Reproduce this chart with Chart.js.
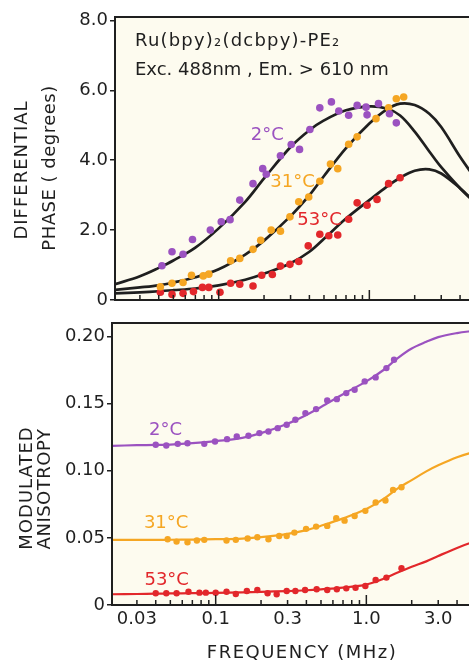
<!DOCTYPE html>
<html lang="en">
<head>
<meta charset="UTF-8">
<title>Differential phase and modulated anisotropy</title>
<script src="https://cdn.jsdelivr.net/npm/chart.js@4.4.0/dist/chart.umd.min.js"></script>
<style>
  html, body { margin: 0; padding: 0; background: #fff; overflow: hidden; width: 469px; height: 660px; }
  #phase-box { position: absolute; left: 0; top: 0; }
  #aniso-box { position: absolute; left: 0; top: 310px; }
</style>
</head>
<body>
<div id="phase-box"><canvas id="phaseChart" width="540" height="330"></canvas></div>
<div id="aniso-box"><canvas id="anisoChart" width="540" height="350"></canvas></div>
<script>
// ---- differential phase (degrees), measured points ----
const phaseFreq2 = [0.042, 0.049, 0.058, 0.067, 0.088, 0.104, 0.119, 0.138, 0.169, 0.196, 0.207, 0.257, 0.303, 0.344, 0.403, 0.469, 0.56, 0.627, 0.729, 0.83, 0.951, 0.966, 1.15, 1.36, 1.51]
const phase2 = [0.98, 1.38, 1.31, 1.73, 2.0, 2.24, 2.30, 2.86, 3.33, 3.76, 3.6, 4.13, 4.45, 4.31, 4.88, 5.50, 5.67, 5.41, 5.29, 5.57, 5.52, 5.30, 5.62, 5.33, 5.07]
const phaseFreq31 = [0.041, 0.049, 0.058, 0.066, 0.079, 0.086, 0.12, 0.138, 0.169, 0.19, 0.223, 0.257, 0.297, 0.34, 0.396, 0.469, 0.552, 0.617, 0.729, 0.83, 1.107, 1.342, 1.51, 1.69]
const phase31 = [0.38, 0.48, 0.50, 0.71, 0.69, 0.74, 1.12, 1.19, 1.45, 1.71, 2.0, 1.97, 2.38, 2.81, 2.95, 3.40, 3.89, 3.76, 4.46, 4.67, 5.19, 5.50, 5.76, 5.81]
const phaseFreq53 = [0.041, 0.049, 0.058, 0.068, 0.078, 0.086, 0.102, 0.12, 0.138, 0.169, 0.193, 0.227, 0.257, 0.297, 0.34, 0.393, 0.469, 0.538, 0.617, 0.729, 0.83, 0.966, 1.125, 1.342, 1.60]
const phase53 = [0.22, 0.16, 0.19, 0.24, 0.36, 0.36, 0.22, 0.48, 0.45, 0.40, 0.71, 0.73, 0.97, 1.02, 1.10, 1.55, 1.88, 1.84, 1.86, 2.31, 2.78, 2.71, 2.88, 3.33, 3.50]

// ---- fitted curves ----
const fitFreq = [0.0205, 0.03, 0.04, 0.05, 0.07, 0.1, 0.15, 0.2, 0.3, 0.4, 0.5, 0.7, 1.0, 1.3, 1.6, 2.0, 2.5, 3.0, 4.0, 5.0, 6.0]
const fitPhase2 = [0.45, 0.68, 0.92, 1.13, 1.50, 2.05, 2.81, 3.48, 4.38, 4.86, 5.14, 5.43, 5.54, 5.48, 5.28, 4.82, 4.25, 3.80, 3.20, 2.80, 2.50]
const fitPhase31 = [0.29, 0.36, 0.42, 0.50, 0.65, 0.88, 1.30, 1.70, 2.40, 3.00, 3.55, 4.35, 5.05, 5.45, 5.62, 5.58, 5.33, 4.95, 4.10, 3.50, 3.00]
const fitPhase53 = [0.19, 0.22, 0.25, 0.28, 0.33, 0.42, 0.58, 0.75, 1.05, 1.38, 1.75, 2.33, 2.86, 3.24, 3.50, 3.70, 3.74, 3.62, 3.20, 2.80, 2.50]

// ---- modulated anisotropy, measured points ----
const anisoFreq2 = [0.040, 0.047, 0.056, 0.065, 0.084, 0.099, 0.119, 0.138, 0.165, 0.195, 0.224, 0.258, 0.296, 0.338, 0.394, 0.464, 0.55, 0.637, 0.736, 0.836, 0.975, 1.153, 1.359, 1.527]
const aniso2 = [0.1193, 0.1188, 0.1200, 0.1205, 0.1200, 0.1218, 0.1235, 0.1255, 0.1260, 0.1280, 0.1292, 0.1317, 0.1342, 0.1379, 0.1429, 0.1459, 0.1523, 0.1533, 0.1578, 0.1603, 0.1665, 0.1695, 0.1764, 0.1826]
const anisoFreq31 = [0.048, 0.055, 0.065, 0.075, 0.084, 0.118, 0.136, 0.163, 0.189, 0.224, 0.264, 0.296, 0.333, 0.398, 0.464, 0.55, 0.631, 0.717, 0.836, 0.985, 1.153, 1.339, 1.504, 1.711]
const aniso31 = [0.0490, 0.0472, 0.0467, 0.0480, 0.0485, 0.0480, 0.0485, 0.0495, 0.0505, 0.0490, 0.0514, 0.0514, 0.0539, 0.0567, 0.0584, 0.0589, 0.0646, 0.0628, 0.0663, 0.0701, 0.0763, 0.0778, 0.0857, 0.0877]
const anisoFreq53 = [0.040, 0.047, 0.055, 0.066, 0.078, 0.086, 0.1, 0.118, 0.136, 0.161, 0.189, 0.221, 0.254, 0.296, 0.338, 0.392, 0.468, 0.55, 0.637, 0.736, 0.848, 0.985, 1.153, 1.359, 1.711]
const aniso53 = [0.0087, 0.0087, 0.0087, 0.0099, 0.0092, 0.0092, 0.0092, 0.0099, 0.0082, 0.0104, 0.0112, 0.0087, 0.0080, 0.0104, 0.0104, 0.0112, 0.0117, 0.0112, 0.0117, 0.0124, 0.0129, 0.0142, 0.0186, 0.0204, 0.0274]

const fitAniso2 = [0.1185, 0.1190, 0.1192, 0.1195, 0.1205, 0.1220, 0.1245, 0.1280, 0.1350, 0.1415, 0.1475, 0.1570, 0.1665, 0.1750, 0.1835, 0.1910, 0.1960, 0.1995, 0.2025, 0.2040, 0.2050]
const fitAniso31 = [0.0485, 0.0485, 0.0485, 0.0486, 0.0487, 0.0490, 0.0495, 0.0505, 0.0530, 0.0558, 0.0590, 0.0645, 0.0715, 0.0790, 0.0865, 0.0930, 0.0995, 0.1040, 0.1100, 0.1135, 0.1155]
const fitAniso53 = [0.0080, 0.0082, 0.0084, 0.0086, 0.0088, 0.0090, 0.0094, 0.0098, 0.0104, 0.0110, 0.0117, 0.0130, 0.0152, 0.0195, 0.0240, 0.0285, 0.0325, 0.0365, 0.0425, 0.0465, 0.0490]

// ---- axes ----
const xMin = 0.0205
const xMax = 10
const xTickValues = [0.03, 0.1, 0.3, 1, 3]
const xTickLabels = ['0.03', '0.1', '0.3', '1.0', '3.0']
const xMinorTicks = [0.03, 0.04, 0.05, 0.06, 0.07, 0.08, 0.09, 0.2, 0.3, 0.4, 0.5, 0.6, 0.7, 0.8, 0.9, 2, 3, 4, 5, 6, 7, 8, 9]
const xMajorTicks = [0.1, 1]
const phaseTicks = [0, 2, 4, 6, 8]
const phaseTickLabels = ['0', '2.0', '4.0', '6.0', '8.0']
const anisoTicks = [0, 0.05, 0.1, 0.15, 0.2]
const anisoTickLabels = ['0', '0.05', '0.10', '0.15', '0.20']

const purple = '#9b52c0'
const orange = '#f5a623'
const red = '#e2272b'
const ink = '#1f1f1f'
const cream = '#fdfbef'
const face = '"DejaVu Sans", Verdana, sans-serif'

function pts(xs, ys, color, r) {
    return {
        data: xs.map((x, i) => ({ x: x, y: ys[i] })),
        showLine: false,
        pointRadius: r,
        pointBackgroundColor: color,
        pointBorderWidth: 0,
        order: 0
    }
}

function fit(xs, ys, color, w) {
    return {
        data: xs.map((x, i) => ({ x: x, y: ys[i] })),
        showLine: true,
        borderColor: color,
        borderWidth: w,
        pointRadius: 0,
        tension: 0.35,
        order: 1
    }
}

// cream plot face, inward x ticks, frame
const framePlugin = {
    id: 'frame',
    beforeDraw(chart) {
        const { ctx, chartArea: a } = chart
        ctx.save()
        ctx.fillStyle = cream
        ctx.fillRect(a.left, a.top, a.right - a.left, a.bottom - a.top)
        ctx.restore()
    },
    afterDraw(chart) {
        const { ctx, chartArea: a } = chart
        const x = chart.scales.x
        ctx.save()
        ctx.strokeStyle = ink
        ctx.lineWidth = 1.5
        ctx.beginPath()
        xMinorTicks.forEach(v => {
            const px = x.getPixelForValue(v)
            ctx.moveTo(px, a.bottom)
            ctx.lineTo(px, a.bottom - 5)
        })
        xMajorTicks.forEach(v => {
            const px = x.getPixelForValue(v)
            ctx.moveTo(px, a.bottom)
            ctx.lineTo(px, a.bottom - 10)
        })
        ctx.stroke()
        ctx.lineWidth = 2
        ctx.strokeRect(a.left, a.top, a.right - a.left, a.bottom - a.top)
        ctx.restore()
    }
}

// free text: series labels in data units, captions in canvas pixels
const textPlugin = {
    id: 'notes',
    afterDraw(chart, args, opts) {
        const ctx = chart.ctx
        const sx = chart.scales.x, sy = chart.scales.y
        ctx.save()
        ctx.textBaseline = 'alphabetic'
        ;(opts.items || []).forEach(t => {
            ctx.font = (t.size || 18) + 'px ' + face
            ctx.fillStyle = t.color || ink
            ctx.letterSpacing = (t.spacing || 0) + 'px'
            ctx.textAlign = t.align || 'center'
            let px = t.px, py = t.py
            if (t.f !== undefined) { px = sx.getPixelForValue(t.f); py = sy.getPixelForValue(t.v) }
            ctx.save()
            ctx.translate(px, py)
            if (t.rotate) ctx.rotate(-Math.PI / 2)
            ctx.fillText(t.text, 0, 0)
            ctx.restore()
        })
        ctx.restore()
    }
}

const tickFont = { family: face, size: 18 }

new Chart(document.getElementById('phaseChart'), {
    type: 'scatter',
    data: {
        datasets: [
            pts(phaseFreq2, phase2, purple, 3.8),
            pts(phaseFreq31, phase31, orange, 3.8),
            pts(phaseFreq53, phase53, red, 3.8),
            fit(fitFreq, fitPhase2, ink, 2.7),
            fit(fitFreq, fitPhase31, ink, 2.7),
            fit(fitFreq, fitPhase53, ink, 2.7)
        ]
    },
    options: {
        responsive: false,
        animation: false,
        layout: { padding: { left: 0, top: 17, right: 20, bottom: 0 } },
        plugins: {
            legend: { display: false },
            tooltip: { enabled: false },
            notes: {
                items: [
                    { text: 'Ru(bpy)\u2082(dcbpy)-PE\u2082', px: 135, py: 46, align: 'left', spacing: 1.2 },
                    { text: 'Exc. 488nm , Em. > 610 nm', px: 135, py: 75, align: 'left' },
                    { text: '2°C', f: 0.21, v: 4.57, color: purple },
                    { text: '31°C', f: 0.309, v: 3.23, color: orange },
                    { text: '53°C', f: 0.467, v: 2.14, color: red },
                    { text: 'DIFFERENTIAL', px: 27, py: 170, rotate: true, spacing: 1 },
                    { text: 'PHASE ( degrees)', px: 55, py: 168, rotate: true, spacing: 0.5 }
                ]
            }
        },
        scales: {
            x: {
                type: 'logarithmic',
                min: xMin,
                max: xMax,
                ticks: { display: false },
                grid: { display: false, drawTicks: false },
                border: { display: false },
                afterFit(s) { s.height = 30 }
            },
            y: {
                min: 0,
                max: 8.1,
                afterBuildTicks(s) { s.ticks = phaseTicks.map(v => ({ value: v })) },
                ticks: {
                    font: tickFont,
                    color: ink,
                    padding: 2,
                    callback: (v) => phaseTickLabels[phaseTicks.indexOf(v)]
                },
                grid: { drawOnChartArea: false, tickLength: 5, color: ink, lineWidth: 1.5 },
                border: { display: false },
                afterFit(s) { s.width = 115 }
            }
        }
    },
    plugins: [framePlugin, textPlugin]
})

new Chart(document.getElementById('anisoChart'), {
    type: 'scatter',
    data: {
        datasets: [
            pts(anisoFreq2, aniso2, purple, 3.2),
            pts(anisoFreq31, aniso31, orange, 3.2),
            pts(anisoFreq53, aniso53, red, 3.2),
            fit(fitFreq, fitAniso2, purple, 2.2),
            fit(fitFreq, fitAniso31, orange, 2.2),
            fit(fitFreq, fitAniso53, red, 2.2)
        ]
    },
    options: {
        responsive: false,
        animation: false,
        layout: { padding: { left: 0, top: 13, right: 23, bottom: 0 } },
        plugins: {
            legend: { display: false },
            tooltip: { enabled: false },
            notes: {
                items: [
                    { text: '2°C', f: 0.0464, v: 0.1267, color: purple },
                    { text: '31°C', f: 0.0469, v: 0.0574, color: orange },
                    { text: '53°C', f: 0.0473, v: 0.0149, color: red },
                    { text: 'MODULATED', px: 32, py: 178, rotate: true, spacing: 1 },
                    { text: 'ANISOTROPY', px: 50, py: 179, rotate: true, spacing: 0.5 },
                    { text: 'FREQUENCY (MHz)', px: 302, py: 348, spacing: 1.5 }
                ]
            }
        },
        scales: {
            x: {
                type: 'logarithmic',
                min: xMin,
                max: xMax,
                afterBuildTicks(s) { s.ticks = xTickValues.map(v => ({ value: v })) },
                ticks: {
                    font: tickFont,
                    color: ink,
                    padding: 4,
                    maxRotation: 0,
                    autoSkip: false,
                    callback: (v) => xTickLabels[xTickValues.indexOf(v)]
                },
                grid: { display: false, drawTicks: false },
                border: { display: false },
                afterFit(s) { s.height = 55 }
            },
            y: {
                min: 0,
                max: 0.21,
                afterBuildTicks(s) { s.ticks = anisoTicks.map(v => ({ value: v })) },
                ticks: {
                    font: tickFont,
                    color: ink,
                    padding: 2,
                    callback: (v) => anisoTickLabels[anisoTicks.indexOf(v)]
                },
                grid: { drawOnChartArea: false, tickLength: 5, color: ink, lineWidth: 1.5 },
                border: { display: false },
                afterFit(s) { s.width = 112 }
            }
        }
    },
    plugins: [framePlugin, textPlugin]
})
</script>
</body>
</html>
